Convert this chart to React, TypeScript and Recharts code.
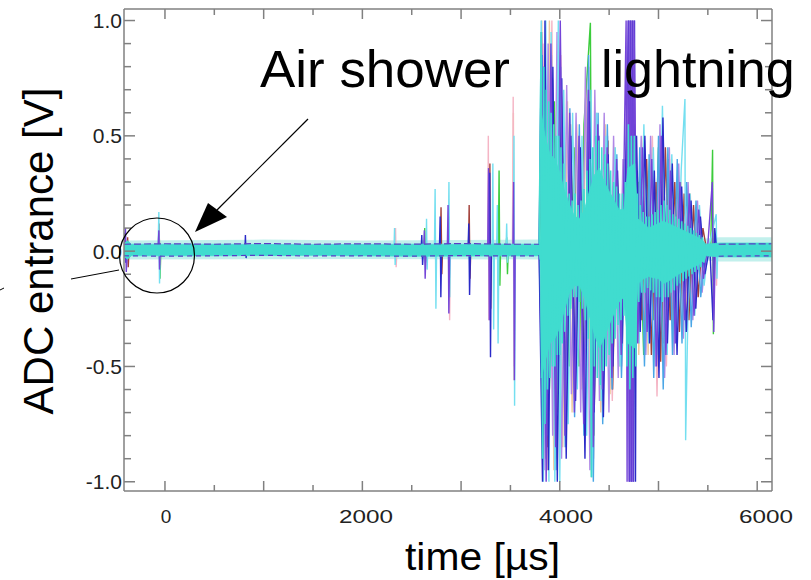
import { ComposedChart, Area, Line, XAxis, YAxis } from "recharts";

// axis ticks
const xTicks = [0, 500, 1000, 1500, 2000, 2500, 3000, 3500, 4000, 4500, 5000, 5500, 6000];
const yTicks = [-1.0, -0.9, -0.8, -0.7, -0.6, -0.5, -0.4, -0.3, -0.2, -0.1, 0.0, 0.1, 0.2, 0.3, 0.4, 0.5, 0.6, 0.7, 0.8, 0.9, 1.0];

// dense turquoise core of the overlaid traces (time in µs, upper / lower edge in V)
const coreTime = [-415, -380, -340, 500, 1500, 2500, 3790, 3800, 3812, 3850, 3900, 3950, 4000, 4050, 4100, 4150, 4200, 4250, 4300, 4350, 4400, 4450, 4500, 4550, 4600, 4650, 4690, 4760, 4790, 4850, 4900, 5000, 5050, 5100, 5200, 5300, 5400, 5460, 5480, 5620, 6150];
const coreHigh = [0.032, 0.045, 0.03, 0.03, 0.028, 0.03, 0.03, 0.04, 0.6, 0.5, 0.42, 0.4, 0.34, 0.26, 0.2, 0.15, 0.14, 0.18, 0.26, 0.33, 0.36, 0.3, 0.26, 0.22, 0.18, 0.18, 0.36, 0.38, 0.14, 0.12, 0.1, 0.12, 0.13, 0.12, 0.1, 0.08, 0.06, 0.04, 0.03, 0.035, 0.035];
const coreLow = [-0.022, -0.035, -0.02, -0.02, -0.018, -0.022, -0.02, -0.04, -0.55, -0.48, -0.4, -0.38, -0.33, -0.25, -0.18, -0.15, -0.15, -0.2, -0.28, -0.36, -0.42, -0.38, -0.32, -0.27, -0.22, -0.2, -0.4, -0.42, -0.14, -0.12, -0.11, -0.12, -0.14, -0.13, -0.1, -0.08, -0.06, -0.04, -0.02, -0.025, -0.025];

// light noise fringe around the baseline
const fuzzTime = [-415, 1000, 2000, 3790, 3800, 5480, 5620, 6150];
const fuzzHigh = [0.046, 0.05, 0.046, 0.05, 0.05, 0.055, 0.06, 0.06];
const fuzzLow = [-0.036, -0.035, -0.034, -0.036, -0.04, -0.04, -0.045, -0.045];

// purple baseline traces at the band edges
const baseUpper: [number, number | null][] = [[-415, 0.03], [0, 0.032], [500, 0.03], [1000, 0.033], [1500, 0.03], [2000, 0.032], [2500, 0.03], [3000, 0.033], [3500, 0.03], [3790, 0.03], [3800, null], [5600, null], [5610, 0.03], [6150, 0.032]];
const baseLower: [number, number | null][] = [[-415, -0.02], [0, -0.022], [500, -0.02], [1000, -0.018], [1500, -0.021], [2000, -0.02], [2500, -0.022], [3000, -0.019], [3500, -0.021], [3790, -0.02], [3800, null], [5600, null], [5610, -0.022], [6150, -0.02]];

// individual traces [time µs, V]
const purpleTrace: [number, number][] = [
  [-415, 0], [-400, 0.1], [-392, -0.09], [-380, 0],
  [-70, 0], [-62, 0.09], [-55, -0.08], [-48, 0],
  [2620, 0], [2628, 0.09], [2636, -0.12], [2645, 0],
  [2860, 0], [2868, 0.2], [2876, -0.27], [2885, 0],
  [3270, 0], [3278, 0.36], [3286, -0.3], [3295, 0],
  [3525, 0], [3532, 0.3], [3540, -0.56], [3548, 0],
  [3790, 0],
  [3815, 0.95], [3862, -1.0], [3910, 0.9], [3958, -0.85], [4005, 1.0], [4052, -0.8], [4100, 0.6], [4148, -0.7],
  [4195, 0.5], [4242, -0.75], [4290, 0.7], [4338, -0.85], [4385, 0.55], [4432, -0.6], [4480, 0.45], [4528, -0.55],
  [4575, 0.4], [4622, -0.45], [4672, 1.0], [4682, -1.0], [4692, 1.0], [4702, -1.0], [4712, 1.0], [4722, -1.0],
  [4732, 1.0], [4742, -1.0], [4752, 1.0], [4790, -0.4], [4838, 0.45], [4885, -0.35], [4932, 0.4], [4980, -0.5],
  [5028, 0.5], [5075, -0.45], [5122, 0.35], [5170, -0.4], [5218, 0.3], [5265, -0.3], [5312, 0.25], [5360, -0.28],
  [5408, 0.18], [5455, -0.12], [5500, 0.03], [5545, 0.3], [5560, -0.35], [5575, 0], [6150, 0],
];
const blueTrace: [number, number][] = [
  [-415, 0], [-405, 0.08], [-398, -0.05], [-390, 0],
  [810, 0], [815, 0.07], [822, -0.03], [830, 0],
  [2595, 0], [2602, 0.07], [2610, -0.06], [2618, 0],
  [2780, 0], [2788, 0.15], [2795, -0.2], [2803, 0],
  [3070, 0], [3078, 0.12], [3086, -0.19], [3095, 0],
  [3283, 0], [3290, 0.34], [3298, -0.46], [3306, 0],
  [3790, 0],
  [3825, -1.0], [3850, 1.0], [3885, -0.95], [3930, 0.8], [3975, -1.0], [4020, 0.75], [4065, -0.9], [4112, 0.5],
  [4160, -0.65], [4208, 0.45], [4255, -0.9], [4300, 0.65], [4348, -0.7], [4395, 0.5], [4442, -0.72], [4490, 0.42],
  [4538, -0.5], [4585, 0.35], [4630, -0.4], [4697, 1.0], [4707, -1.0], [4717, 1.0], [4727, -1.0], [4737, 1.0],
  [4747, -1.0], [4757, 1.0], [4767, -1.0], [4778, 0.5], [4815, -0.35], [4862, 0.5], [4910, -0.4], [4958, 0.35],
  [5005, -0.55], [5045, 0.58], [5090, -0.4], [5140, 0.38], [5188, -0.45], [5235, 0.28], [5282, -0.35], [5330, 0.22],
  [5378, -0.25], [5425, 0.15], [5470, -0.1], [5520, 0.02], [5552, -0.3], [5570, 0.1], [5590, 0], [6150, 0],
];
const brownTrace: [number, number][] = [
  [-415, 0], [-385, 0], [-378, 0.06], [-372, -0.07], [-365, 0],
  [-68, 0], [-60, 0.12], [-52, -0.06], [-45, 0],
  [2790, 0], [2797, 0.19], [2805, -0.1], [2812, 0],
  [3075, 0], [3082, 0.2], [3090, -0.12], [3098, 0],
  [3285, 0], [3292, 0.38], [3300, -0.25], [3308, 0],
  [3790, 0],
  [3838, 0.8], [3880, -0.85], [3925, 0.75], [3970, -0.7], [4015, 0.7], [4060, -0.75], [4108, 0.55], [4155, -0.6],
  [4202, 0.45], [4250, -0.65], [4298, 0.6], [4345, -0.8], [4392, 0.5], [4440, -0.55], [4488, 0.48], [4535, -0.6],
  [4582, 0.3], [4630, -0.35], [4678, 0.4], [4730, -0.45], [4785, 0.35], [4832, -0.3], [4880, 0.4], [4928, -0.45],
  [4975, 0.3], [5022, -0.48], [5070, 0.45], [5118, -0.3], [5165, 0.3], [5212, -0.35], [5260, 0.25], [5308, -0.3],
  [5355, 0.2], [5402, -0.2], [5450, 0.1], [5490, 0], [6150, 0],
];
const greenTrace: [number, number][] = [
  [-415, 0], [-65, 0], [-58, 0.07], [-50, -0.12], [-42, 0],
  [2625, 0], [2632, 0.1], [2640, -0.05], [2648, 0],
  [3378, 0], [3385, 0.35], [3393, -0.15], [3400, 0],
  [3455, 0], [3462, 0.06], [3470, -0.1], [3478, 0],
  [3790, 0],
  [3845, 0.7], [3895, -0.6], [3945, 0.65], [3995, -0.55], [4045, 0.5], [4095, -0.5], [4145, 0.45], [4195, -0.5],
  [4245, 0.55], [4310, 0.99], [4330, -0.6], [4380, 0.45], [4430, -0.5], [4480, 0.42], [4530, -0.45], [4580, 0.35],
  [4630, -0.3], [4700, 0], [4800, 0.3], [4850, -0.45], [4900, 0.35], [4950, -0.3], [5000, 0.45], [5050, -0.4],
  [5100, 0.4], [5150, -0.32], [5200, 0.3], [5250, -0.3], [5300, 0.2], [5350, -0.22], [5400, 0.15], [5450, -0.1],
  [5530, 0.03], [5548, 0.44], [5556, -0.36], [5565, 0], [6150, 0],
];
const pinkTrace: [number, number][] = [
  [-415, 0], [2330, 0], [2336, 0.1], [2342, -0.07], [2350, 0],
  [2870, 0], [2877, 0.15], [2884, -0.3], [2892, 0],
  [3270, 0], [3276, 0.5], [3283, -0.3], [3290, 0],
  [3520, 0], [3528, 0.67], [3535, -0.5], [3545, 0],
  [3790, 0],
  [3830, 0.9], [3875, -0.95], [3920, 1.0], [3965, -0.9], [4010, 0.85], [4058, -0.7], [4105, 0.55], [4152, -0.55],
  [4200, 0.4], [4248, -0.7], [4295, 0.8], [4342, -0.9], [4390, 0.45], [4438, -0.6], [4485, 0.5], [4532, -0.65],
  [4580, 0.4], [4628, -0.5], [4690, 0.3], [4795, -0.3], [4842, 0.35], [4890, -0.3], [4938, 0.5], [4985, -0.63],
  [5032, 0.4], [5080, -0.5], [5128, 0.35], [5175, -0.3], [5222, 0.28], [5270, -0.25], [5318, 0.2], [5365, -0.2],
  [5412, 0.12], [5470, 0], [5580, 0.05], [5588, -0.15], [5595, 0], [6150, 0],
];
const peachTrace: [number, number][] = [
  [-415, 0], [3525, 0], [3530, 0.6], [3537, -0.56], [3545, 0], [3790, 0],
  [3818, 1.0], [3855, -0.9], [3895, 1.0], [3940, -0.95], [3985, 0.9], [4030, -0.85], [4078, 0.65], [4125, -0.7],
  [4172, 0.55], [4220, -0.6], [4268, 0.75], [4322, -0.98], [4368, 0.6], [4415, -0.7], [4462, 0.55], [4510, -0.62],
  [4558, 0.45], [4605, -0.5], [4652, 0.4], [4670, 0], [4790, 0], [4800, -0.45], [4848, 0.5], [4895, -0.45],
  [4942, 0.45], [4990, -0.5], [5038, 0.5], [5085, -0.45], [5132, 0.4], [5180, -0.35], [5228, 0.3], [5275, -0.3],
  [5322, 0.25], [5370, -0.25], [5418, 0.15], [5465, -0.1], [5500, 0], [6150, 0],
];
const skyTrace: [number, number][] = [
  [-415, 0], [3790, 0],
  [3822, 0.85], [3868, -0.8], [3915, 0.85], [3962, -0.95], [4008, 0.8], [4055, -0.85], [4102, 0.62], [4150, -0.72],
  [4198, 0.55], [4245, -0.8], [4292, 0.85], [4340, -1.0], [4388, 0.6], [4435, -0.75], [4482, 0.55], [4530, -0.6],
  [4578, 0.42], [4625, -0.55], [4660, 0], [4790, 0], [4810, 0.45], [4858, -0.5], [4905, 0.42], [4952, -0.55],
  [5000, 0.5], [5048, -0.6], [5095, 0.45], [5142, -0.45], [5190, 0.4], [5238, -0.4], [5285, 0.3], [5332, -0.33],
  [5380, 0.22], [5428, -0.2], [5470, 0], [6150, 0],
];
const lavenderTrace: [number, number][] = [
  [-415, 0], [3790, 0],
  [3840, -0.95], [3882, 0.9], [3928, -0.8], [3972, 0.95], [4018, -0.9], [4070, 0.72], [4118, -0.62], [4165, 0.6],
  [4212, -0.7], [4260, 0.8], [4305, -0.95], [4355, 0.7], [4402, -0.65], [4450, 0.6], [4498, -0.7], [4545, 0.5],
  [4592, -0.55], [4640, 0.4], [4662, 0], [4790, 0], [4825, 0.5], [4872, -0.45], [4920, 0.5], [4968, -0.5],
  [5015, 0.55], [5062, -0.55], [5110, 0.45], [5158, -0.45], [5205, 0.38], [5252, -0.38], [5300, 0.3], [5348, -0.3],
  [5395, 0.22], [5442, -0.18], [5480, 0], [6150, 0],
];
const lightCyanTrace: [number, number][] = [
  [-415, 0], [-70, 0], [-62, 0.17], [-55, -0.14], [-48, 0],
  [2320, 0], [2326, 0.1], [2332, -0.06], [2340, 0],
  [2645, 0], [2650, 0.14], [2656, -0.08], [2662, 0],
  [2730, 0], [2737, 0.27], [2745, -0.25], [2752, 0],
  [2870, 0], [2877, 0.3], [2885, -0.2], [2892, 0],
  [3315, 0], [3322, 0.38], [3330, -0.34], [3338, 0],
  [3360, 0], [3367, 0.2], [3375, -0.4], [3383, 0],
  [3455, 0], [3462, 0.12], [3470, -0.05], [3478, 0],
  [3530, 0], [3536, 0.5], [3542, -0.67], [3550, 0],
  [3790, 0],
  [3812, 1.0], [3834, -1.0], [3858, 1.0], [3890, -1.0], [3912, 0.95], [3950, -1.0], [3985, 1.0], [4000, -1.0],
  [4040, 0.7], [4085, -0.75], [4130, 0.6], [4178, -0.6], [4225, 0.5], [4272, -0.8], [4318, 0.7], [4326, -0.98],
  [4372, 0.6], [4420, -0.65], [4468, 0.5], [4515, -0.55], [4562, 0.45], [4610, -0.5], [4660, 0.4], [4720, -0.45],
  [4770, 0.5], [4805, -0.4], [4852, 0.55], [4900, -0.4], [4948, 0.45], [4995, -0.45], [5040, 0.63], [5088, -0.45],
  [5135, 0.42], [5182, -0.4], [5230, 0.35], [5268, 0.66], [5275, -0.82], [5320, 0.25], [5368, -0.28], [5415, 0.2],
  [5462, -0.15], [5500, 0], [5585, 0.16], [5592, -0.12], [5600, 0], [6150, 0],
];
// turquoise trace ringing just outside the dense core
const turquoiseTrace: [number, number][] = [
  [3790, 0], [3812, 0.95], [3825, -0.9], [3838, 0.8], [3850, -0.75], [3862, 0.7], [3875, -0.6], [3888, 0.65],
  [3900, -0.55], [3912, 0.6], [3925, -0.5], [3938, 0.55], [3950, -0.5], [3962, 0.5], [3975, -0.45], [3988, 0.5],
  [4000, -0.45], [4012, 0.45], [4025, -0.4], [4038, 0.38], [4050, -0.35], [4065, 0.3], [4080, -0.28], [4095, 0.25],
  [4110, -0.25], [4125, 0.22], [4140, -0.2], [4155, 0.25], [4170, -0.2], [4185, 0.2], [4200, -0.22], [4215, 0.22],
  [4230, -0.25], [4245, 0.27], [4260, -0.3], [4275, 0.35], [4290, -0.38], [4305, 0.4], [4320, -0.98], [4335, 0.45],
  [4350, -0.5], [4365, 0.5], [4380, -0.55], [4395, 0.48], [4410, -0.58], [4425, 0.45], [4440, -0.52], [4455, 0.42],
  [4470, -0.5], [4485, 0.38], [4500, -0.45], [4515, 0.35], [4530, -0.4], [4545, 0.3], [4560, -0.38], [4575, 0.28],
  [4590, -0.32], [4605, 0.25], [4620, -0.3], [4635, 0.25], [4650, -0.28], [4665, 0.3], [4680, -0.5], [4695, 0.55],
  [4710, -0.6], [4725, 0.5], [4740, -0.55], [4755, 0.5], [4770, -0.5], [4785, 0.25], [4800, -0.22], [4815, 0.2],
  [4830, -0.18], [4845, 0.17], [4860, -0.18], [4875, 0.15], [4890, -0.16], [4905, 0.15], [4920, -0.17], [4935, 0.16],
  [4950, -0.18], [4965, 0.17], [4980, -0.2], [4995, 0.18], [5010, -0.2], [5025, 0.2], [5040, -0.22], [5055, 0.22],
  [5070, -0.2], [5085, 0.2], [5100, -0.2], [5115, 0.18], [5130, -0.18], [5145, 0.16], [5160, -0.17], [5175, 0.15],
  [5190, -0.15], [5205, 0.14], [5220, -0.14], [5235, 0.13], [5250, -0.13], [5265, 0.12], [5280, -0.12], [5295, 0.11],
  [5310, -0.11], [5325, 0.1], [5340, -0.1], [5355, 0.09], [5370, -0.09], [5385, 0.08], [5400, -0.08], [5415, 0.07],
  [5430, -0.07], [5445, 0.06], [5460, -0.05], [5480, 0],
];

const traces = [
  { name: "peach", color: "#f0caa0", points: peachTrace },
  { name: "pink", color: "#f5b5c5", points: pinkTrace },
  { name: "green", color: "#3ccc3c", points: greenTrace },
  { name: "lavender", color: "#b088e6", points: lavenderTrace },
  { name: "brown", color: "#a3403a", points: brownTrace },
  { name: "sky", color: "#4aa6e6", points: skyTrace },
  { name: "lightcyan", color: "#74dff0", points: lightCyanTrace },
  { name: "blue", color: "#2a2ac8", points: blueTrace },
  { name: "purple", color: "#7444d8", points: purpleTrace },
];

const FONT = "Liberation Sans, Arial, sans-serif";
const FRAME = "#808080";
const TURQ = "#40dccf";

const toPts = (arr: [number, number | null][]) => arr.map(([t, v]) => ({ t, v }));
const coreData = coreTime.map((t, i) => ({ t, band: [coreLow[i], coreHigh[i]] }));
const fuzzData = fuzzTime.map((t, i) => ({ t, band: [fuzzLow[i], fuzzHigh[i]] }));

const BottomTick = (props: any) => {
  const { x, y, payload } = props;
  const v = payload.value;
  const len = v % 1000 === 0 ? 10 : 6;
  return (
    <g>
      <line x1={x} y1={y} x2={x} y2={y - len} stroke={FRAME} strokeWidth={1.5} />
      {v % 2000 === 0 && (
        <text x={x + 1 + v * 0.0013} y={y + 32} textAnchor="middle" fontSize={19} fontFamily={FONT} fill="#222"
          textLength={v === 0 ? undefined : 54} lengthAdjust="spacingAndGlyphs">
          {v}
        </text>
      )}
    </g>
  );
};

const TopTick = (props: any) => {
  const { x, y, payload } = props;
  const len = payload.value % 1000 === 0 ? 10 : 6;
  return <line x1={x} y1={y} x2={x} y2={y + len} stroke={FRAME} strokeWidth={1.5} />;
};

const LeftTick = (props: any) => {
  const { x, y, payload } = props;
  const v = payload.value;
  const major = Math.round(v * 10) % 5 === 0;
  return (
    <g>
      <line x1={x} y1={y} x2={x + (major ? 11 : 7)} y2={y} stroke={FRAME} strokeWidth={1.5} />
      {major && (
        <text x={x - 2} y={y} dy="0.36em" textAnchor="end" fontSize={21} fontFamily={FONT} fill="#222">
          {v.toFixed(1)}
        </text>
      )}
    </g>
  );
};

const RightTick = (props: any) => {
  const { x, y, payload } = props;
  const major = Math.round(payload.value * 10) % 5 === 0;
  return <line x1={x} y1={y} x2={x - (major ? 11 : 7)} y2={y} stroke={FRAME} strokeWidth={1.5} />;
};

export default function App() {
  const xDomain: [number, number] = [-415, 6150];
  const yDomain: [number, number] = [-1.04, 1.05];
  return (
    <div style={{ position: "absolute", left: 0, top: 0, width: 811, height: 580, background: "#fff" }}>
      <ComposedChart width={811} height={580} margin={{ top: 0, right: 0, bottom: 0, left: 0 }}>
        <XAxis xAxisId={0} dataKey="t" type="number" domain={xDomain} allowDataOverflow ticks={xTicks} interval={0}
          height={89} tickSize={0} tickMargin={0} tickLine={false} tick={<BottomTick />}
          axisLine={{ stroke: FRAME, strokeWidth: 1.5 }} />
        <XAxis xAxisId="top" orientation="top" dataKey="t" type="number" domain={xDomain} allowDataOverflow ticks={xTicks}
          interval={0} height={9} tickSize={0} tickMargin={0} tickLine={false} tick={<TopTick />}
          axisLine={{ stroke: FRAME, strokeWidth: 1.5 }} />
        <YAxis yAxisId={0} type="number" domain={yDomain} allowDataOverflow ticks={yTicks} interval={0} width={124}
          tickSize={0} tickMargin={0} tickLine={false} tick={<LeftTick />} axisLine={{ stroke: FRAME, strokeWidth: 1.5 }} />
        <YAxis yAxisId="right" orientation="right" type="number" domain={yDomain} allowDataOverflow ticks={yTicks}
          interval={0} width={39} tickSize={0} tickMargin={0} tickLine={false} tick={<RightTick />}
          axisLine={{ stroke: FRAME, strokeWidth: 1.5 }} />

        <Area data={fuzzData} dataKey="band" type="linear" stroke="none" fill="#8fe3dd" fillOpacity={0.55}
          isAnimationActive={false} zIndex={50} />
        {traces.map((tr) => (
          <Line key={tr.name} data={toPts(tr.points)} dataKey="v" type="linear" stroke={tr.color} strokeWidth={1.4}
            dot={false} activeDot={false} isAnimationActive={false} />
        ))}
        <Area data={coreData} dataKey="band" type="linear" stroke={TURQ} strokeWidth={0.8} fill={TURQ}
          fillOpacity={1} isAnimationActive={false} zIndex={450} />
        <Line data={toPts(turquoiseTrace)} dataKey="v" type="linear" stroke={TURQ} strokeWidth={1.6}
          dot={false} activeDot={false} isAnimationActive={false} zIndex={455} />
        <Line data={toPts(baseUpper)} dataKey="v" type="linear" stroke="#5a3cc8" strokeWidth={1.2} strokeDasharray="7 3"
          dot={false} activeDot={false} isAnimationActive={false} zIndex={460} />
        <Line data={toPts(baseLower)} dataKey="v" type="linear" stroke="#5a3cc8" strokeWidth={1.2} strokeDasharray="5 4"
          dot={false} activeDot={false} isAnimationActive={false} zIndex={460} />
      </ComposedChart>

      <svg width={811} height={580} style={{ position: "absolute", left: 0, top: 0, pointerEvents: "none" }}>
        <text transform="translate(53,251) rotate(-90)" textAnchor="middle" fontSize={42} fontFamily={FONT} fill="#000">
          ADC entrance [V]
        </text>
        <text x={405} y={570} fontSize={38} fontFamily={FONT} fill="#000" textLength={155} lengthAdjust="spacingAndGlyphs">
          time [µs]
        </text>
        <text x={260} y={87} fontSize={52} fontFamily={FONT} fill="#000" textLength={250} lengthAdjust="spacingAndGlyphs">
          Air shower
        </text>
        <text x={601} y={87} fontSize={52} fontFamily={FONT} fill="#000">
          lightning
        </text>
        <line x1={308} y1={119} x2={217} y2={210} stroke="#000" strokeWidth={1.2} />
        <polygon points="195,232 208,203 227,217" fill="#000" />
        <circle cx={157} cy={255.5} r={37.5} fill="none" stroke="#000" strokeWidth={1.2} />
        <line x1={71} y1={279} x2={119} y2={270} stroke="#000" strokeWidth={1} />
        <line x1={0} y1={290} x2={4} y2={288} stroke="#000" strokeWidth={1} />
      </svg>
    </div>
  );
}
